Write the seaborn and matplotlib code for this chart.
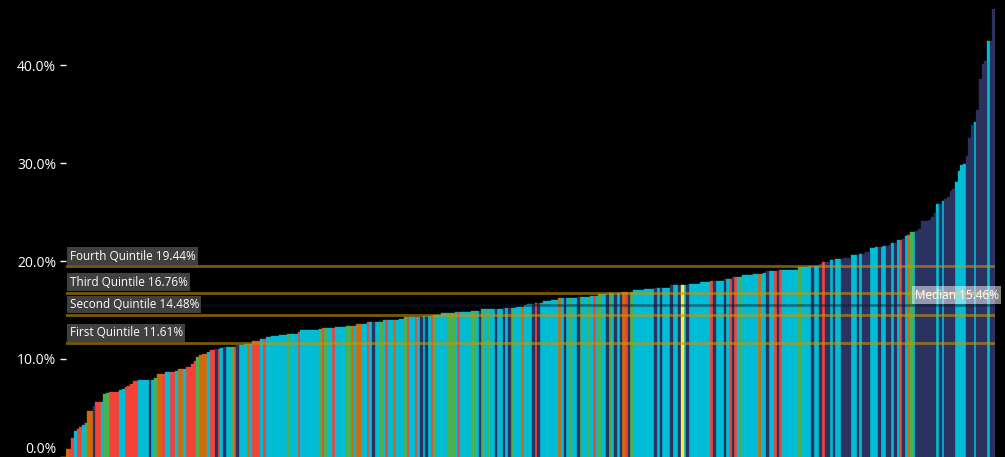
import numpy as np
import pandas as pd
import matplotlib
matplotlib.use('Agg')
import matplotlib.pyplot as plt
import seaborn as sns
from matplotlib.ticker import PercentFormatter

# bar heights (%), sorted ascending
shares = [
    # left part
    0.8, 0.8, 1.9, 2.6, 2.8, 3.0, 3.2, 3.45, 4.65, 4.65,
    5.2, 5.6, 5.6, 5.6, 6.4, 6.5, 6.6, 6.6, 6.6, 6.65,
    6.8, 6.9, 7.1, 7.25, 7.4, 7.7, 7.7, 7.8, 7.8, 7.8,
    7.8, 7.8, 7.8, 8.05, 8.45, 8.45, 8.45, 8.6, 8.6, 8.65,
    8.65, 8.8, 8.95, 8.95, 9.0, 9.2, 9.2, 9.45, 9.75, 10.2,
    10.4, 10.45, 10.45, 10.7, 10.9, 10.9, 10.95, 10.95, 11.1, 11.2,
    11.25, 11.25, 11.25, 11.25, 11.4, 11.45, 11.45, 11.5, 11.55, 11.55,
    11.8, 11.8, 11.8, 12.0, 12.05, 12.2, 12.2, 12.3, 12.35, 12.35,
    12.45, 12.45, 12.45, 12.5, 12.5, 12.5, 12.5, 12.7, 12.9, 12.9,
    12.9, 12.9, 12.9, 12.9, 12.9, 13.0, 13.1, 13.1, 13.1, 13.1,
    13.1, 13.2,
    # middle part
    13.25, 13.25, 13.25, 13.36, 13.36, 13.36, 13.36, 13.56, 13.56, 13.56,
    13.56, 13.77, 13.77, 13.77, 13.77, 13.77, 13.77, 13.97, 13.97, 13.97,
    13.97, 13.97, 13.97, 14.07, 14.07, 14.28, 14.28, 14.28, 14.28, 14.28,
    14.28, 14.28, 14.38, 14.38, 14.38, 14.38, 14.48, 14.48, 14.48, 14.69,
    14.69, 14.69, 14.69, 14.69, 14.79, 14.79, 14.79, 14.79, 14.79, 14.79,
    14.9, 14.9, 14.9, 14.9, 15.1, 15.1, 15.1, 15.1, 15.1, 15.1,
    15.1, 15.1, 15.2, 15.2, 15.2, 15.2, 15.2, 15.3, 15.3, 15.3,
    15.5, 15.6, 15.6, 15.6, 15.7, 15.7, 15.7, 15.9, 15.9, 15.9,
    16.0, 16.0, 16.0, 16.2, 16.2, 16.2, 16.2, 16.2, 16.2, 16.2,
    16.3, 16.3, 16.3, 16.3, 16.3, 16.4, 16.4, 16.4, 16.6, 16.6,
    16.6, 16.7, 16.7, 16.7, 16.7, 16.7, 16.8, 16.8, 16.8, 16.8,
    16.8, 17.0, 17.0, 17.0, 17.0, 17.1, 17.1, 17.1, 17.1, 17.25,
    17.25, 17.25, 17.25,
    # upper middle
    17.28, 17.28, 17.55, 17.55, 17.55, 17.55, 17.55, 17.55, 17.55, 17.65,
    17.65, 17.65, 17.65, 17.86, 17.86, 17.86, 17.86, 17.96, 17.96, 17.96,
    17.96, 17.96, 18.17, 18.17, 18.17, 18.37, 18.37, 18.37, 18.37, 18.58,
    18.58, 18.58, 18.58, 18.68, 18.68, 18.68, 18.68, 18.8, 18.99, 18.99,
    18.99, 18.99, 18.99, 19.12, 19.12, 19.12, 19.12, 19.12, 19.12, 19.12,
    19.4, 19.4, 19.4, 19.4, 19.53, 19.53, 19.53, 19.53, 19.73, 19.9,
    19.9, 19.9, 20.1, 20.1, 20.25, 20.25, 20.25, 20.35, 20.35, 20.35,
    20.6, 20.6, 20.6, 20.7, 20.7, 20.9, 20.9, 21.3, 21.3, 21.4,
    # right tail
    21.45, 21.45, 21.55, 21.55, 21.6, 21.85, 21.85, 22.15, 22.15, 22.25,
    22.55, 22.7, 22.95, 22.95, 23.1, 23.3, 24.1, 24.1, 24.1, 24.2,
    24.5, 24.9, 25.8, 25.8, 26.1, 26.3, 26.5, 27.2, 27.4, 28.1,
    29.2, 29.8, 29.9, 30.7, 32.6, 33.9, 34.2, 35.4, 38.6, 40.2,
    40.5, 42.5, 42.5, 45.8,
]

# one letter per bar: C cyan, N navy, R red, G green, O orange, Y yellow
groups = (
    "ORRCRRCGOO" "NRRCGGRRRR" "CCRRRRRCCC" "CNCGOORCCR" "RCOOCRRRRG"
    "OOOCRRNRCN" "CCGRNCCCOC" "RRRCRCCCCC" "CCCGCCCRCC" "CCCCCGRGCC" "RC"
    "CCCGGOCOOC" "CRCNCCGCRC" "COCCCGRCCR" "CNCNCRGCCC" "CGGGCRCCCC"
    "GGCNGCGCCN" "CCNCNGCCCO" "CCCNRNCCCC" "CCCOCNCGCC" "NGCCGCRCGC"
    "CNGCNCNORN" "GCCCCCCCCN" "CNC"
    "CCNCCNYCNC" "CCCCCCCRNC" "CCNCRNRCGC" "CCCCCOCCNC" "CRNRCCCCCC"
    "GCCCCNCCNR" "NNCNCCNNNN" "CCNCNNNCCC"
    "NCCNNCNCRN" "COGCNNNNNN" "NNCNCNNNNC" "CCCNNNCNNN" "NCNN"
)

quintile_names = ['First Quintile', 'Second Quintile', 'Third Quintile', 'Fourth Quintile']
quintile_vals = [11.61, 14.48, 16.76, 19.44]
median_val = 15.46

palette = {'C': '#00BCD4', 'N': '#2B3260', 'R': '#F44336',
           'G': '#4CAF50', 'O': '#D2690A', 'Y': '#FFEB3B'}

df = pd.DataFrame({'rank': range(len(shares)),
                   'share': np.array(shares) / 100,
                   'group': list(groups)})

sns.set_style('dark', {'axes.facecolor': 'black', 'figure.facecolor': 'black'})
plt.rcParams['font.family'] = ['Open Sans', 'DejaVu Sans']

fig = plt.figure(figsize=(10.05, 4.57), dpi=100)
ax = fig.add_axes([0.0657, 0.001, 0.9244, 0.999])

sns.barplot(data=df, x='rank', y='share', hue='group', palette=palette,
            dodge=False, width=1.0, saturation=1, legend=False, ax=ax)
for p in ax.patches:
    p.set_edgecolor(p.get_facecolor())
    p.set_linewidth(0.25)

# quintile lines with labels
for name, v in zip(quintile_names, quintile_vals):
    ax.axhline(v / 100, color='#C8960A', alpha=0.6, lw=2, zorder=3)
    ax.annotate(f'{name} {v:.2f}%', xy=(0, v / 100),
                xycoords=('axes fraction', 'data'),
                xytext=(2.5, 2.8), textcoords='offset points',
                ha='left', va='bottom', color='white', fontsize=8.5, zorder=5,
                bbox=dict(boxstyle='square,pad=0.2', fc='#404040', ec='none'))

# median
ax.axhline(median_val / 100, color='#0a1a2a', alpha=0.45, lw=2, zorder=3)
ax.annotate(f'Median {median_val:.2f}%', xy=(1, median_val / 100),
            xycoords=('axes fraction', 'data'),
            xytext=(2.5, 2.8), textcoords='offset points',
            ha='right', va='bottom', color='white', fontsize=8.5, zorder=5,
            annotation_clip=False,
            bbox=dict(boxstyle='square,pad=0.2', fc=(1, 1, 1, 0.5), ec='none'))

ax.set_ylim(0, 0.467)
ax.set_yticks([0, 0.1, 0.2, 0.3, 0.4])
ax.yaxis.set_major_formatter(PercentFormatter(xmax=1, decimals=1))
ax.set_xlabel('')
ax.set_ylabel('')
ax.tick_params(axis='y', colors='white', labelsize=10, length=4, width=1, pad=3, left=True)
ax.tick_params(axis='x', labelbottom=False, length=2, direction='in', color='#aaaaaa', bottom=True)
for s in ax.spines.values():
    s.set_visible(False)
ax.get_yticklabels()[0].set_va('bottom')

fig.savefig('out.png', dpi=100, facecolor='black')
